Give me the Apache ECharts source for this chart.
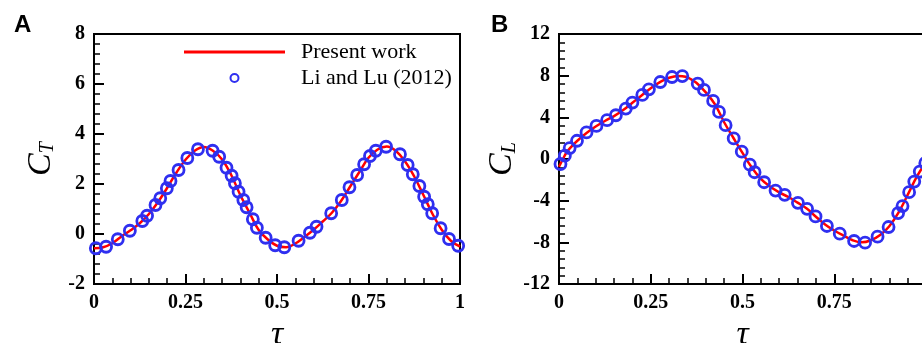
<!DOCTYPE html>
<html>
<head>
<meta charset="utf-8">
<script src="https://cdn.jsdelivr.net/npm/echarts@6/dist/echarts.min.js"></script>
<style>
html, body { margin: 0; padding: 0; background: #fff; }
#chart { width: 922px; height: 343px; }
</style>
</head>
<body>
<div id="chart"></div>
<script>
// panel A: thrust coefficient
var ctLineX = [0, 0.025, 0.05, 0.075, 0.1, 0.125, 0.15, 0.175, 0.2, 0.225, 0.25, 0.275, 0.3, 0.325, 0.35, 0.375, 0.4, 0.425, 0.45, 0.475, 0.5, 0.525, 0.55, 0.575, 0.6, 0.625, 0.65, 0.675, 0.7, 0.725, 0.75, 0.775, 0.8, 0.825, 0.85, 0.875, 0.9, 0.925, 0.95, 0.975, 1];
var ctLineY = [-0.57, -0.53, -0.37, -0.1, 0.15, 0.43, 0.8, 1.28, 1.85, 2.45, 2.97, 3.33, 3.48, 3.33, 2.98, 2.36, 1.55, 0.85, 0.16, -0.22, -0.47, -0.53, -0.38, -0.12, 0.17, 0.5, 0.85, 1.32, 1.9, 2.48, 3.05, 3.38, 3.5, 3.32, 2.9, 2.3, 1.56, 0.8, 0.17, -0.27, -0.5];
var ctRefX = [0.005, 0.033, 0.065, 0.098, 0.132, 0.145, 0.168, 0.181, 0.199, 0.209, 0.231, 0.255, 0.284, 0.324, 0.342, 0.362, 0.376, 0.385, 0.395, 0.408, 0.417, 0.434, 0.445, 0.469, 0.495, 0.52, 0.559, 0.59, 0.608, 0.648, 0.677, 0.698, 0.719, 0.738, 0.754, 0.77, 0.798, 0.836, 0.857, 0.871, 0.889, 0.902, 0.912, 0.924, 0.947, 0.97, 0.995];
var ctRefY = [-0.57, -0.51, -0.21, 0.13, 0.52, 0.73, 1.16, 1.43, 1.83, 2.12, 2.56, 3.04, 3.39, 3.33, 3.09, 2.65, 2.33, 2.03, 1.69, 1.36, 1.07, 0.59, 0.25, -0.15, -0.45, -0.53, -0.27, 0.05, 0.29, 0.83, 1.36, 1.87, 2.36, 2.79, 3.12, 3.33, 3.49, 3.19, 2.76, 2.39, 1.92, 1.49, 1.19, 0.83, 0.23, -0.2, -0.47];

// panel B: lift coefficient
var clLineX = [0, 0.01, 0.02, 0.03, 0.05, 0.075, 0.1, 0.125, 0.15, 0.175, 0.2, 0.225, 0.25, 0.275, 0.3, 0.325, 0.345, 0.36, 0.375, 0.4, 0.425, 0.45, 0.475, 0.5, 0.525, 0.55, 0.575, 0.6, 0.625, 0.65, 0.675, 0.7, 0.725, 0.75, 0.775, 0.8, 0.825, 0.85, 0.875, 0.9, 0.925, 0.95, 0.975, 1];
var clLineY = [-0.75, -0.05, 0.6, 1.05, 1.75, 2.5, 3.12, 3.65, 4.12, 4.7, 5.4, 6.1, 6.8, 7.38, 7.8, 7.98, 7.9, 7.65, 7.3, 6.4, 5.25, 3.53, 2.04, 0.58, -0.8, -1.9, -2.64, -3.2, -3.65, -4.19, -4.76, -5.54, -6.28, -6.86, -7.35, -7.8, -8.0, -7.8, -7.3, -6.45, -5.15, -3.45, -1.7, -0.3];
var clRefX = [0.004, 0.016, 0.029, 0.049, 0.075, 0.102, 0.131, 0.155, 0.182, 0.2, 0.227, 0.245, 0.276, 0.308, 0.336, 0.378, 0.395, 0.42, 0.436, 0.454, 0.476, 0.498, 0.52, 0.533, 0.559, 0.59, 0.615, 0.651, 0.676, 0.699, 0.73, 0.765, 0.804, 0.834, 0.868, 0.898, 0.924, 0.936, 0.954, 0.968, 0.983, 0.998];
var clRefY = [-0.48, 0.32, 1.05, 1.75, 2.55, 3.18, 3.73, 4.2, 4.84, 5.42, 6.15, 6.69, 7.39, 7.87, 7.96, 7.23, 6.63, 5.58, 4.52, 3.25, 1.98, 0.7, -0.54, -1.27, -2.23, -3.03, -3.44, -4.21, -4.78, -5.51, -6.43, -7.17, -7.87, -8.03, -7.46, -6.53, -5.19, -4.52, -3.18, -2.17, -1.21, -0.4];

var xTickStep = 0.25;
var ctRange = [-2, 8, 2];
var clRange = [-12, 12, 4];

function pairs(xs, ys) {
    var out = [];
    for (var i = 0; i < xs.length; i++) out.push([xs[i], ys[i]]);
    return out;
}

var serif = 'Liberation Serif';
var blue = '#2f2ff0';
var red = '#ff0000';

function xAxisFor(gi) {
    return {
        type: 'value', gridIndex: gi, min: 0, max: 1, interval: xTickStep,
        name: '\u03c4', nameLocation: 'middle', nameGap: 21,
        nameTextStyle: { fontFamily: serif, fontStyle: 'italic', fontSize: 34, color: '#000' },
        axisLine: { onZero: false, lineStyle: { color: '#000', width: 2 } },
        axisTick: { inside: true, length: 10, lineStyle: { color: '#000', width: 2 } },
        minorTick: { show: true, splitNumber: 5, length: 6, lineStyle: { color: '#000', width: 1.5 } },
        splitLine: { show: false },
        axisLabel: { margin: 9, fontFamily: serif, fontWeight: 'bold', fontSize: 20, color: '#000' }
    };
}

function yAxisFor(gi, range, sub) {
    return {
        type: 'value', gridIndex: gi, min: range[0], max: range[1], interval: range[2],
        name: '{c|C}{s|' + sub + '}', nameLocation: 'middle', nameGap: 36,
        nameTextStyle: {
            rich: {
                c: { fontFamily: serif, fontStyle: 'italic', fontSize: 34, lineHeight: 34, verticalAlign: 'top', color: '#000' },
                s: { fontFamily: serif, fontStyle: 'italic', fontSize: 20, lineHeight: 20, padding: [20, 0, 0, 0], verticalAlign: 'bottom', color: '#000' }
            }
        },
        axisLine: { onZero: false, lineStyle: { color: '#000', width: 2 } },
        axisTick: { inside: true, length: 10, lineStyle: { color: '#000', width: 2 } },
        minorTick: { show: true, splitNumber: 5, length: 6, lineStyle: { color: '#000', width: 1.5 } },
        splitLine: { show: false },
        axisLabel: { margin: 9, fontFamily: serif, fontWeight: 'bold', fontSize: 20, color: '#000' }
    };
}

function lineSeries(gi, data) {
    return {
        name: 'Present work', type: 'line', xAxisIndex: gi, yAxisIndex: gi,
        data: data, smooth: 0.4, symbol: 'none',
        lineStyle: { color: red, width: 2.5 }, itemStyle: { color: red }, z: 2
    };
}

function refSeries(gi, data) {
    return {
        name: 'Li and Lu (2012)', type: 'scatter', xAxisIndex: gi, yAxisIndex: gi,
        data: data, symbol: 'circle', symbolSize: 11,
        itemStyle: { color: 'rgba(0,0,0,0)', borderColor: blue, borderWidth: 2.8, opacity: 1 }, z: 3
    };
}

var chart = echarts.init(document.getElementById('chart'), null, { renderer: 'canvas' });
chart.setOption({
    animation: false,
    backgroundColor: '#fff',
    title: [
        { text: 'A', left: 9, top: 8, textStyle: { fontFamily: 'Liberation Sans', fontWeight: 'bold', fontSize: 24, color: '#000' } },
        { text: 'B', left: 486, top: 8, textStyle: { fontFamily: 'Liberation Sans', fontWeight: 'bold', fontSize: 24, color: '#000' } }
    ],
    legend: {
        orient: 'vertical', left: 184, top: 41, padding: 0, itemWidth: 101, itemHeight: 8, itemGap: 4,
        data: [
            { name: 'Present work', icon: 'path://M0,0H100V3H0Z', itemStyle: { color: red, borderWidth: 0 } },
            { name: 'Li and Lu (2012)' }
        ],
        textStyle: { fontFamily: serif, fontSize: 22, color: '#000', padding: [0, 0, 0, 11] }
    },
    grid: [
        { left: 94, top: 34, width: 366, height: 250, outerBoundsMode: 'none', show: true, borderColor: '#000', borderWidth: 2, backgroundColor: 'transparent' },
        { left: 559, top: 34, width: 367, height: 250, outerBoundsMode: 'none', show: true, borderColor: '#000', borderWidth: 2, backgroundColor: 'transparent' }
    ],
    xAxis: [xAxisFor(0), xAxisFor(1)],
    yAxis: [yAxisFor(0, ctRange, 'T'), yAxisFor(1, clRange, 'L')],
    series: [
        lineSeries(0, pairs(ctLineX, ctLineY)),
        refSeries(0, pairs(ctRefX, ctRefY)),
        lineSeries(1, pairs(clLineX, clLineY)),
        refSeries(1, pairs(clRefX, clRefY))
    ]
});
</script>
</body>
</html>
